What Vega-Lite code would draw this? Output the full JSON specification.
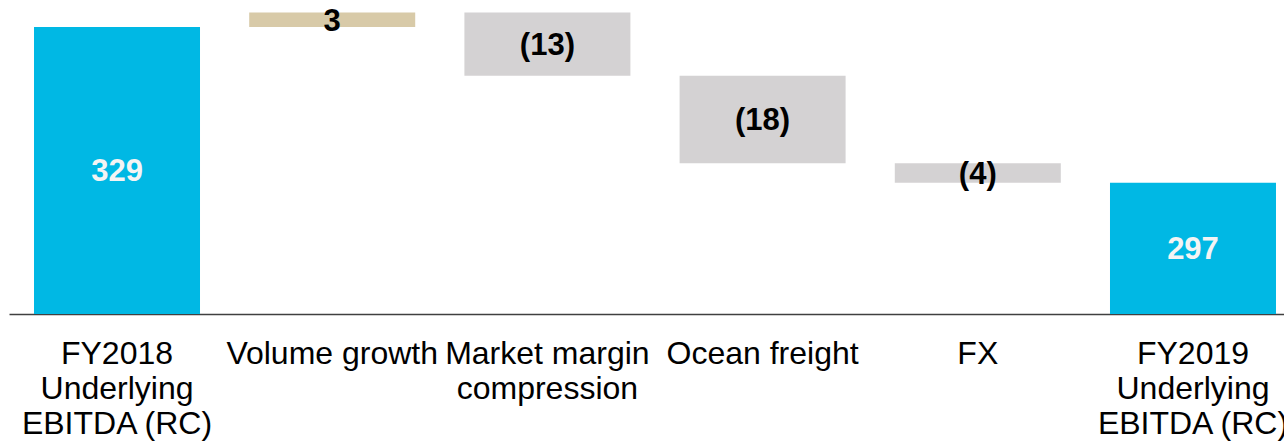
{
  "$schema": "https://vega.github.io/schema/vega-lite/v6.json",
  "autosize": {"type": "none"},
  "padding": {"left": 9, "top": 0, "right": 0, "bottom": 128},
  "width": 1275,
  "height": 314,
  "background": "white",
  "config": {"view": {"stroke": null}, "font": "Liberation Sans"},
  "data": {
    "values": [
      {"category": "FY2018|Underlying|EBITDA (RC)", "kind": "total", "start": 270, "end": 329, "label": "329"},
      {"category": "Volume growth", "kind": "increase", "start": 329, "end": 332, "label": "3"},
      {"category": "Market margin|compression", "kind": "decrease", "start": 332, "end": 319, "label": "(13)"},
      {"category": "Ocean freight", "kind": "decrease", "start": 319, "end": 301, "label": "(18)"},
      {"category": "FX", "kind": "decrease", "start": 301, "end": 297, "label": "(4)"},
      {"category": "FY2019|Underlying|EBITDA (RC)", "kind": "total", "start": 270, "end": 297, "label": "297"}
    ]
  },
  "encoding": {
    "x": {
      "field": "category",
      "type": "nominal",
      "sort": null,
      "scale": {"paddingInner": 0.2286, "paddingOuter": 0.1162, "range": [0, 1292]},
      "axis": {
        "title": null,
        "labelAngle": 0,
        "labelExpr": "split(datum.label, '|')",
        "labelFontSize": 32,
        "labelColor": "#000000",
        "labelFont": "Liberation Sans",
        "labelLineHeight": 35,
        "ticks": false,
        "tickSize": 0,
        "labelPadding": 24,
        "domainColor": "#404040",
        "domainWidth": 1.3,
        "labelOverlap": false,
        "labelLimit": 0,
        "labelBaseline": "top",
        "labelAlign": "center"
      }
    }
  },
  "layer": [
    {
      "mark": {"type": "bar"},
      "encoding": {
        "y": {
          "field": "start",
          "type": "quantitative",
          "scale": {"domain": [270, 334.55], "nice": false, "zero": false},
          "axis": null
        },
        "y2": {"field": "end"},
        "color": {
          "field": "kind",
          "type": "nominal",
          "scale": {"domain": ["total", "increase", "decrease"], "range": ["#00B8E4", "#D8CAA8", "#D4D2D3"]},
          "legend": null
        }
      }
    },
    {
      "transform": [{"fold": ["start", "end"], "as": ["k", "v"]}],
      "mark": {"type": "text", "fontWeight": "bold", "fontSize": 31, "baseline": "middle", "dy": 2, "font": "Liberation Sans"},
      "encoding": {
        "y": {"field": "v", "aggregate": "mean", "type": "quantitative", "axis": null},
        "text": {"field": "label"},
        "detail": {"field": "kind"},
        "color": {
          "condition": {"test": "datum.kind === 'total'", "value": "#F4F4F4"},
          "value": "#000000"
        }
      }
    }
  ]
}
